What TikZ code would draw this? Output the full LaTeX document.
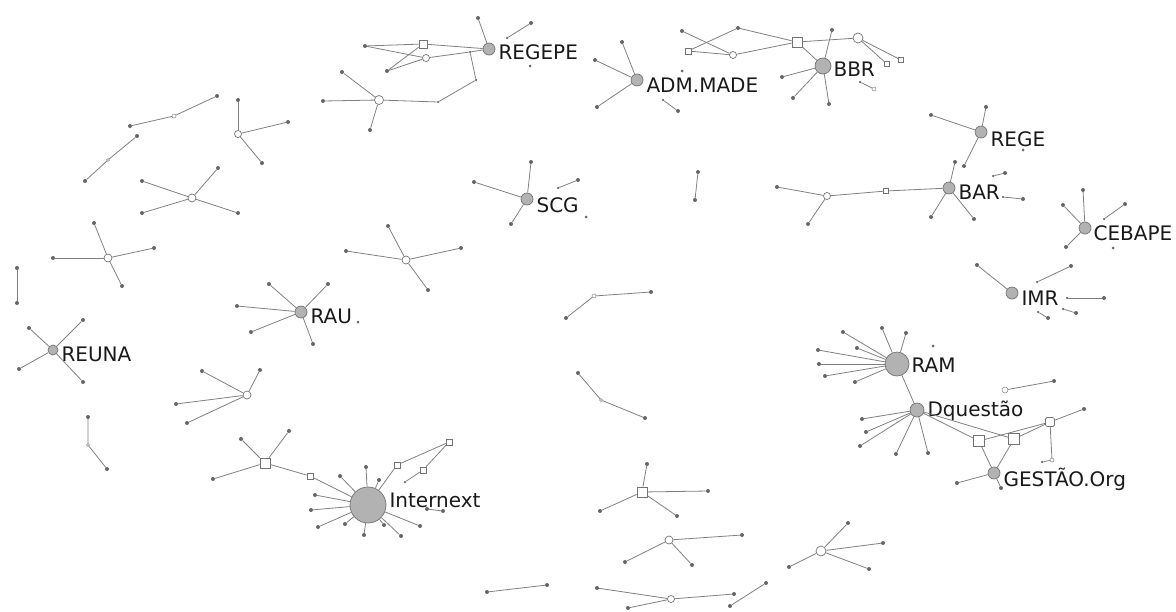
\documentclass[tikz,border=0pt]{standalone}
\usepackage{fontspec}
\setmainfont{DejaVu Sans}
\usetikzlibrary{positioning}

\begin{document}
\begin{tikzpicture}[
  x=1pt,
  y=-1pt,
  edge/.style={draw=black!50, line width=0.8pt},
  leaf/.style={circle, fill=black!60, inner sep=0pt, minimum size=4pt},
  tinynode/.style={circle, draw=black!50, fill=white, inner sep=0pt, minimum size=4pt, line width=0.5pt},
  opennode/.style={circle, draw=black!55, fill=white, inner sep=0pt, minimum size=8pt, line width=0.7pt},
  sqnode/.style={rectangle, draw=black!55, fill=white, inner sep=0pt, minimum size=8pt, line width=0.7pt},
  hub/.style={circle, draw=black!55, fill=black!30, inner sep=0pt, minimum size=12pt, line width=0.7pt},
  lbl/.style={font=\fontsize{20}{20}\selectfont, text=black!90, inner sep=0pt}
]
  \useasboundingbox (0,0) rectangle (1176,611);

  % small groups, left side
  \node[leaf] (pa1) at (130,126) {};
  \node[tinynode] (pa2) at (174,116) {};
  \node[leaf] (pa3) at (217,96) {};
  \draw[edge] (pa1) -- (pa2) -- (pa3);
  \node[leaf] (pb1) at (85,181) {};
  \node[tinynode, minimum size=3pt] (pb2) at (108,160) {};
  \node[leaf] (pb3) at (137,136) {};
  \draw[edge] (pb1) -- (pb2) -- (pb3);

  \node[opennode, minimum size=7pt] (sc) at (238,134) {};
  \foreach \p [count=\i] in {(238,100),(288,122),(262,163)} {
    \node[leaf] (sc\i) at \p {};
    \draw[edge] (sc) -- (sc\i);
  }
  \node[opennode] (sd) at (192,198) {};
  \foreach \p [count=\i] in {(142,181),(218,168),(142,213),(238,213)} {
    \node[leaf] (sd\i) at \p {};
    \draw[edge] (sd) -- (sd\i);
  }
  \node[opennode] (se) at (108,258) {};
  \foreach \p [count=\i] in {(94,223),(53,258),(154,248),(122,286)} {
    \node[leaf] (se\i) at \p {};
    \draw[edge] (se) -- (se\i);
  }
  \node[leaf] (pf1) at (17,268) {};
  \node[leaf] (pf2) at (17,303) {};
  \draw[edge] (pf1) -- (pf2);

  % REUNA
  \node[hub, minimum size=10pt] (reuna) at (53,350) {};
  \foreach \p [count=\i] in {(29,328),(83,320),(19,369),(83,382)} {
    \node[leaf] (reuna\i) at \p {};
    \draw[edge] (reuna) -- (reuna\i);
  }
  \node[lbl, right=3pt of reuna, yshift=-4pt] {REUNA};

  % RAU
  \node[hub] (rau) at (301,312) {};
  \foreach \p [count=\i] in {(269,284),(237,306),(251,332),(328,284),(313,344)} {
    \node[leaf] (rau\i) at \p {};
    \draw[edge] (rau) -- (rau\i);
  }
  \node[lbl, right=3pt of rau, yshift=-4pt] (raulbl) {RAU};
  \node[leaf, minimum size=3pt] (rau6) at (358,322) {};

  \node[opennode] (sg) at (247,395) {};
  \foreach \p [count=\i] in {(202,371),(260,370),(176,404),(187,423)} {
    \node[leaf] (sg\i) at \p {};
    \draw[edge] (sg) -- (sg\i);
  }
  \node[leaf] (ph1) at (88,417) {};
  \node[tinynode, minimum size=3pt] (ph2) at (88,445) {};
  \node[leaf] (ph3) at (107,469) {};
  \draw[edge] (ph1) -- (ph2) -- (ph3);

  % Internext
  \node[hub, minimum size=36pt] (inx) at (368,505) {};
  \node[sqnode, minimum size=10pt] (si) at (265,463) {};
  \node[sqnode, minimum size=6pt] (si0) at (310,476) {};
  \foreach \p [count=\i] in {(241,439),(289,431),(213,479)} {
    \node[leaf] (si\i) at \p {};
    \draw[edge] (si) -- (si\i);
  }
  \draw[edge] (si) -- (si0) -- (inx);
  \foreach \p [count=\i] in {(366,467),(340,476),(379,480),(315,495),(311,510),(318,527),
                              (345,524),(364,535),(384,525),(401,536),(420,526)} {
    \node[leaf] (inx\i) at \p {};
    \draw[edge] (inx) -- (inx\i);
  }
  \node[sqnode, minimum size=6pt] (inxa) at (397,465) {};
  \node[sqnode, minimum size=6pt] (inxb) at (449,442) {};
  \node[sqnode, minimum size=6pt] (inxc) at (423,470) {};
  \node[leaf, minimum size=2.5pt] (inxd) at (405,482) {};
  \draw[edge] (inx) -- (inxa) -- (inxb) -- (inxc) -- (inxd);
  \node[lbl, right=3pt of inx, yshift=5pt] {Internext};
  \node[leaf] (pi1) at (427,509) {};
  \node[leaf] (pi2) at (443,511) {};
  \draw[edge] (pi1) -- (pi2);
  \node[leaf] (pj1) at (487,592) {};
  \node[leaf] (pj2) at (547,585) {};
  \draw[edge] (pj1) -- (pj2);

  % REGEPE
  \node[hub] (regepe) at (489,49) {};
  \node[sqnode] (rq) at (423,44) {};
  \node[opennode, minimum size=7pt] (rc) at (426,58) {};
  \node[leaf] (rl1) at (365,46) {};
  \node[leaf] (rl2) at (387,71) {};
  \node[leaf, minimum size=2.5pt] (rb1) at (470,52) {};
  \node[leaf, minimum size=2.5pt] (rb2) at (476,80) {};
  \node[leaf, minimum size=2.5pt] (rb3) at (438,102) {};
  \node[opennode, minimum size=9pt] (rs) at (379,100) {};
  \draw[edge] (rl1) -- (rq) -- (regepe);
  \draw[edge] (rl1) -- (rc);
  \draw[edge] (rl2) -- (rq);
  \draw[edge] (rl2) -- (rc);
  \draw[edge] (rc) -- (rb1) -- (regepe);
  \draw[edge] (rb1) -- (rb2) -- (rb3) -- (rs);
  \foreach \p [count=\i] in {(342,72),(323,101),(370,130)} {
    \node[leaf] (rs\i) at \p {};
    \draw[edge] (rs) -- (rs\i);
  }
  \node[leaf] (regepe1) at (478,18) {};
  \draw[edge] (regepe) -- (regepe1);
  \node[leaf, minimum size=2.5pt] (rk1) at (507,38) {};
  \node[leaf] (rk2) at (531,23) {};
  \draw[edge] (rk1) -- (rk2);
  \node[leaf, minimum size=3pt] (rk3) at (530,66) {};
  \node[lbl, right=3pt of regepe, yshift=-3pt] {REGEPE};

  % SCG
  \node[hub] (scg) at (527,199) {};
  \foreach \p [count=\i] in {(474,182),(531,162),(511,224)} {
    \node[leaf] (scg\i) at \p {};
    \draw[edge] (scg) -- (scg\i);
  }
  \node[leaf, minimum size=2.5pt] (scgk1) at (558,188) {};
  \node[leaf] (scgk2) at (578,180) {};
  \draw[edge] (scgk1) -- (scgk2);
  \node[leaf, minimum size=3pt] (scgk3) at (586,217) {};
  \node[lbl, right=3pt of scg, yshift=-6pt] {SCG};

  \node[opennode] (sj) at (406,260) {};
  \foreach \p [count=\i] in {(388,226),(346,251),(461,248),(428,290)} {
    \node[leaf] (sj\i) at \p {};
    \draw[edge] (sj) -- (sj\i);
  }

  % ADM.MADE
  \node[hub] (adm) at (637,80) {};
  \foreach \p [count=\i] in {(622,42),(595,60),(597,107)} {
    \node[leaf] (adm\i) at \p {};
    \draw[edge] (adm) -- (adm\i);
  }
  \node[leaf, minimum size=2.5pt] (admk1) at (663,100) {};
  \node[leaf] (admk2) at (678,111) {};
  \draw[edge] (admk1) -- (admk2);
  \node[leaf, minimum size=3pt] (admk3) at (682,71) {};
  \node[lbl, right=3pt of adm, yshift=-5pt] {ADM.MADE};

  % BBR
  \node[hub, minimum size=16pt] (bbr) at (823,66) {};
  \node[sqnode, minimum size=10pt] (bq) at (797,42) {};
  \node[opennode, minimum size=7pt] (bc) at (733,55) {};
  \node[leaf] (bn) at (738,28) {};
  \node[leaf] (bl) at (682,31) {};
  \node[sqnode, minimum size=6pt] (bs) at (688,51) {};
  \node[opennode, minimum size=10pt] (bo) at (858,38) {};
  \node[sqnode, minimum size=5pt] (bt1) at (901,60) {};
  \node[sqnode, minimum size=5pt] (bt2) at (887,64) {};
  \draw[edge] (bl) -- (bc);
  \draw[edge] (bs) -- (bn) -- (bq);
  \draw[edge] (bs) -- (bc) -- (bq);
  \draw[edge] (bq) -- (bo);
  \draw[edge] (bq) -- (bbr);
  \draw[edge] (bo) -- (bt1);
  \draw[edge] (bo) -- (bt2);
  \foreach \p [count=\i] in {(832,30),(782,77),(793,98),(829,104)} {
    \node[leaf] (bbr\i) at \p {};
    \draw[edge] (bbr) -- (bbr\i);
  }
  \node[leaf, minimum size=2.5pt] (bk1) at (860,82) {};
  \node[tinynode] (bk2) at (874,89) {};
  \draw[edge] (bk1) -- (bk2);
  \node[lbl, right=2pt of bbr, yshift=-3pt] {BBR};

  \node[leaf] (pk1) at (698,172) {};
  \node[leaf] (pk2) at (695,200) {};
  \draw[edge] (pk1) -- (pk2);

  % BAR
  \node[hub] (bar) at (949,188) {};
  \node[leaf] (barl) at (777,187) {};
  \node[opennode, minimum size=7pt] (barc) at (827,196) {};
  \node[sqnode, minimum size=5pt] (bars) at (886,191) {};
  \node[leaf] (barm) at (808,224) {};
  \draw[edge] (barl) -- (barc) -- (bars) -- (bar);
  \draw[edge] (barc) -- (barm);
  \foreach \p [count=\i] in {(955,162),(931,217),(974,219)} {
    \node[leaf] (bar\i) at \p {};
    \draw[edge] (bar) -- (bar\i);
  }
  \node[leaf, minimum size=2.5pt] (bark1) at (993,176) {};
  \node[leaf] (bark2) at (1005,173) {};
  \draw[edge] (bark1) -- (bark2);
  \node[leaf, minimum size=2.5pt] (bark3) at (1003,197) {};
  \node[leaf] (bark4) at (1023,199) {};
  \draw[edge] (bark3) -- (bark4);
  \node[lbl, right=3pt of bar, yshift=-4pt] {BAR};

  % REGE
  \node[hub] (rege) at (981,132) {};
  \foreach \p [count=\i] in {(931,115),(986,107),(964,166)} {
    \node[leaf] (rege\i) at \p {};
    \draw[edge] (rege) -- (rege\i);
  }
  \node[leaf, minimum size=3pt] (regek) at (1023,150) {};
  \node[lbl, right=3pt of rege, yshift=-7pt] {REGE};

  % CEBAPE
  \node[hub] (cebape) at (1085,228) {};
  \foreach \p [count=\i] in {(1083,190),(1063,205),(1066,247)} {
    \node[leaf] (cebape\i) at \p {};
    \draw[edge] (cebape) -- (cebape\i);
  }
  \node[leaf, minimum size=2.5pt] (cebk1) at (1104,219) {};
  \node[leaf] (cebk2) at (1125,204) {};
  \draw[edge] (cebk1) -- (cebk2);
  \node[leaf, minimum size=3pt] (cebk3) at (1113,248) {};
  \node[lbl, right=2pt of cebape, yshift=-5pt] {CEBAPE};

  % IMR
  \node[hub] (imr) at (1012,293) {};
  \node[leaf] (imr1) at (977,265) {};
  \draw[edge] (imr) -- (imr1);
  \node[leaf, minimum size=2.5pt] (imrk1) at (1037,282) {};
  \node[leaf] (imrk2) at (1071,266) {};
  \draw[edge] (imrk1) -- (imrk2);
  \node[leaf, minimum size=2.5pt] (imrk3) at (1067,298) {};
  \node[leaf] (imrk4) at (1104,298) {};
  \draw[edge] (imrk3) -- (imrk4);
  \node[leaf, minimum size=2.5pt] (imrk5) at (1063,309) {};
  \node[leaf] (imrk6) at (1076,313) {};
  \draw[edge] (imrk5) -- (imrk6);
  \node[leaf, minimum size=2.5pt] (imrk7) at (1038,312) {};
  \node[leaf] (imrk8) at (1048,318) {};
  \draw[edge] (imrk7) -- (imrk8);
  \node[lbl, right=3pt of imr, yshift=-5pt] {IMR};

  % RAM, Dquestao, GESTAO.Org
  \node[hub, minimum size=24pt] (ram) at (897,364) {};
  \foreach \p [count=\i] in {(843,332),(857,348),(818,350),(819,364),(825,376),(855,382),(882,328),(906,333)} {
    \node[leaf] (ram\i) at \p {};
    \draw[edge] (ram) -- (ram\i);
  }
  \node[leaf, minimum size=3pt] (ramk) at (933,346) {};
  \node[lbl, right=2pt of ram, yshift=-1pt] {RAM};

  \node[hub, minimum size=14pt] (dq) at (917,410) {};
  \draw[edge] (ram) -- (dq);
  \foreach \p [count=\i] in {(862,419),(866,432),(860,446),(896,454),(928,453)} {
    \node[leaf] (dq\i) at \p {};
    \draw[edge] (dq) -- (dq\i);
  }
  \node[lbl, right=3pt of dq, yshift=-1pt] {Dquestão};

  \node[hub] (gest) at (994,473) {};
  \node[sqnode, minimum size=11pt] (gq1) at (979,441) {};
  \node[sqnode, minimum size=11pt] (gq2) at (1014,439) {};
  \node[sqnode, minimum size=9pt, rounded corners=1.5pt] (gq3) at (1050,422) {};
  \draw[edge] (dq) -- (gq1) -- (gest);
  \draw[edge] (dq) -- (gq2) -- (gest);
  \draw[edge] (gq1) -- (gq3);
  \draw[edge] (gq2) -- (gq3);
  \node[leaf] (gq4) at (1084,409) {};
  \node[tinynode] (gq5) at (1052,460) {};
  \node[leaf, minimum size=2.5pt] (gq6) at (1042,462) {};
  \draw[edge] (gq3) -- (gq4);
  \draw[edge] (gq3) -- (gq5) -- (gq6);
  \foreach \p [count=\i] in {(957,483),(1001,488)} {
    \node[leaf] (gest\i) at \p {};
    \draw[edge] (gest) -- (gest\i);
  }
  \node[tinynode, minimum size=6pt] (gk1) at (1005,390) {};
  \node[leaf] (gk2) at (1054,381) {};
  \draw[edge] (gk1) -- (gk2);
  \node[lbl, right=3pt of gest, yshift=-6pt] {GESTÃO.Org};

  % small groups, middle and bottom
  \node[leaf] (pl1) at (566,318) {};
  \node[tinynode] (pl2) at (594,296) {};
  \node[leaf] (pl3) at (651,292) {};
  \draw[edge] (pl1) -- (pl2) -- (pl3);
  \node[leaf] (pm1) at (578,373) {};
  \node[tinynode, minimum size=3pt] (pm2) at (601,400) {};
  \node[leaf] (pm3) at (645,418) {};
  \draw[edge] (pm1) -- (pm2) -- (pm3);

  \node[sqnode, minimum size=10pt] (sm) at (642,492) {};
  \foreach \p [count=\i] in {(647,464),(600,511),(708,491),(677,516)} {
    \node[leaf] (sm\i) at \p {};
    \draw[edge] (sm) -- (sm\i);
  }
  \node[opennode] (sn) at (669,540) {};
  \foreach \p [count=\i] in {(742,535),(625,562),(692,565)} {
    \node[leaf] (sn\i) at \p {};
    \draw[edge] (sn) -- (sn\i);
  }
  \node[opennode, minimum size=7pt] (so) at (671,599) {};
  \foreach \p [count=\i] in {(597,588),(734,594),(628,608)} {
    \node[leaf] (so\i) at \p {};
    \draw[edge] (so) -- (so\i);
  }
  \node[leaf] (pp1) at (730,606) {};
  \node[leaf] (pp2) at (766,583) {};
  \draw[edge] (pp1) -- (pp2);
  \node[opennode, minimum size=10pt] (sq) at (821,551) {};
  \foreach \p [count=\i] in {(848,523),(789,567),(869,569),(883,543)} {
    \node[leaf] (sq\i) at \p {};
    \draw[edge] (sq) -- (sq\i);
  }
\end{tikzpicture}
\end{document}
